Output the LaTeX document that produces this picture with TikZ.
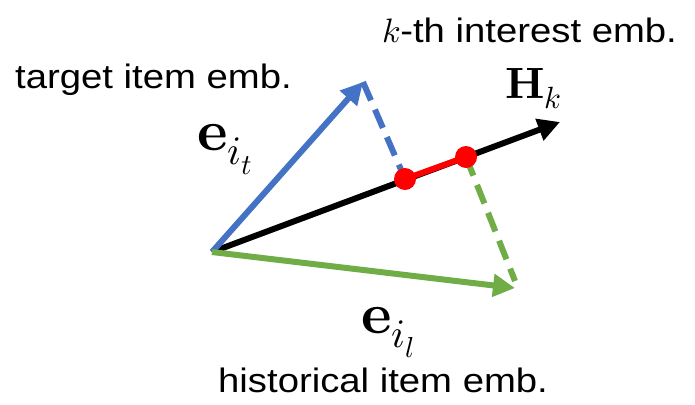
\documentclass[tikz,border=0pt]{standalone}
\usepackage{fontspec}
\usepackage{unicode-math}
\setmainfont[FakeStretch=1.13]{Liberation Sans}
\setmathfont{Latin Modern Math}
\usetikzlibrary{arrows.meta}
\definecolor{cblue}{HTML}{4472C4}
\definecolor{cgreen}{HTML}{70AD47}
\definecolor{cred}{HTML}{FF0000}
\tikzset{
  vec/.style={line width=6bp, -{Triangle[length=22bp,width=22bp]}},
  proj/.style={line width=6bp, dash pattern=on 20bp off 10bp},
  dot/.style={circle, fill=cred, inner sep=0pt, minimum size=22bp},
  lbl/.style={anchor=base west, inner sep=0pt, font=\fontsize{34}{40}\selectfont},
  mlbl/.style={anchor=base west, inner sep=0pt},
}
\begin{document}
\begin{tikzpicture}[x=1bp,y=-1bp]
\useasboundingbox (0,0) rectangle (695,404);
\coordinate (O) at (212,252);
\coordinate (T) at (363,82);
\coordinate (G) at (515,288);
\coordinate (Hk) at (560,122);
\coordinate (P1) at (405,179);
\coordinate (P2) at (466,157);
\coordinate (GE) at (515,281);
% vectors
\draw[vec, black] (O) -- (Hk);
\draw[vec, cblue] (O) -- (T);
\draw[vec, cgreen] (O) -- (G);
% projections
\draw[proj, cblue] (T) -- (P1);
\draw[proj, cgreen] (P2) -- (GE);
\draw[line width=6bp, cred] (P1) -- (P2);
\node[dot] (d1) at (P1) {};
\node[dot] (d2) at (P2) {};
% labels
\node[lbl] (ltarget) at (15,88) {target item emb.};
\node[lbl] (linterest) at (382,42) {$k$-th interest emb.};
\node[lbl] (lhist) at (218,392) {historical item emb.};
\node[mlbl, font=\fontsize{58}{64}\selectfont] (let) at (197,150) {$\symbf{e}_{i_t}$};
\node[mlbl, font=\fontsize{58}{64}\selectfont] (lel) at (361,333) {$\symbf{e}_{i_l}$};
\node[mlbl, font=\fontsize{44}{50}\selectfont] (lhk) at (505,98) {$\symbf{H}_k$};
\end{tikzpicture}
\end{document}
